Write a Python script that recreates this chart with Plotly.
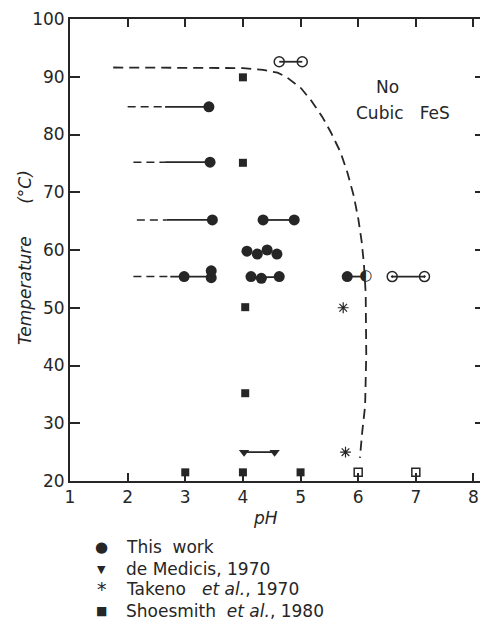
import plotly.graph_objects as go

# ---------------- data ----------------
# Phase boundary (dashed curve)
boundary_ph = [1.75, 3.0, 4.0, 4.35, 4.6, 4.75, 5.01, 5.19, 5.38, 5.53, 5.69, 5.81, 5.92,
               6.0, 6.06, 6.1, 6.13, 6.14, 6.12, 6.07, 6.03]
boundary_t = [91.6, 91.6, 91.5, 91.2, 90.7, 90.0, 88.0, 85.8, 83.0, 80.3, 77.0, 73.5, 69.5,
              65.5, 61.5, 57.5, 52.5, 42.0, 33.0, 28.5, 24.0]

# This work - filled circles
tw_ph = [3.41, 3.43, 3.47, 4.35, 4.89, 4.07, 4.25, 4.42, 4.59,
         2.98, 3.45, 3.45, 4.14, 4.32, 4.63, 5.81]
tw_t = [84.8, 75.2, 65.2, 65.2, 65.2, 59.8, 59.3, 60.0, 59.3,
        55.4, 55.2, 56.4, 55.4, 55.1, 55.4, 55.4]

# This work - dashed lead-in segments (start pH, end pH, temperature)
lead_start = [2.0, 2.1, 2.16, 2.1]
lead_end = [2.65, 2.65, 2.68, 2.74]
lead_t = [84.8, 75.2, 65.2, 55.4]

# Solid connecting segments (start pH, end pH, temperature)
seg_start = [2.65, 2.65, 2.68, 4.35, 2.74, 4.14, 5.81, 6.59, 4.63, 4.02]
seg_end = [3.41, 3.43, 3.47, 4.89, 3.45, 4.63, 6.13, 7.15, 5.03, 4.55]
seg_t = [84.8, 75.2, 65.2, 65.2, 55.4, 55.3, 55.4, 55.4, 92.6, 25.0]

# This work - open circles
open_ph = [4.63, 5.03]
open_t = [92.6, 92.6]
# This work - half-filled circle
half_ph = [6.13]
half_t = [55.4]
# This work - open circles with dot
opendot_ph = [6.59, 7.15]
opendot_t = [55.4, 55.4]

# de Medicis, 1970
dm_ph = [4.02, 4.55]
dm_t = [25.0, 25.0]

# Takeno et al., 1970
tk_ph = [5.74, 5.78]
tk_t = [50.0, 25.0]

# Shoesmith et al., 1980
sh_ph = [4.0, 4.0, 4.04, 4.04, 3.0, 4.0, 5.0]
sh_t = [89.9, 75.1, 50.1, 35.2, 21.5, 21.5, 21.5]
sh_open_ph = [6.0, 7.0]
sh_open_t = [21.5, 21.5]

x_ticks = [1, 2, 3, 4, 5, 6, 7, 8]
y_ticks = [20, 30, 40, 50, 60, 70, 80, 90, 100]

legend_names = ["This  work", "de Medicis, 1970",
                "Takeno&nbsp;&nbsp; <i>et al.</i>, 1970", "Shoesmith&nbsp; <i>et al.</i>, 1980"]
legend_glyphs = ["●", "▼", "*", "■"]
legend_glyph_sizes = [15, 11, 19, 12]

# ---------------- figure ----------------
INK = "#262626"
FONT = "DejaVu Sans"

fig = go.Figure()


def with_gaps(starts, ends, ys):
    xs, yy = [], []
    for a, b, y in zip(starts, ends, ys):
        xs += [a, b, None]
        yy += [y, y, None]
    return xs, yy


# boundary
fig.add_trace(go.Scatter(x=boundary_ph, y=boundary_t, mode="lines",
                         line=dict(color=INK, width=1.8, dash="10px,6px"),
                         showlegend=False, hoverinfo="skip"))

lx, ly = with_gaps(lead_start, lead_end, lead_t)
fig.add_trace(go.Scatter(x=lx, y=ly, mode="lines",
                         line=dict(color=INK, width=1.6, dash="8px,5px"),
                         showlegend=False, hoverinfo="skip"))

sx, sy = with_gaps(seg_start, seg_end, seg_t)
fig.add_trace(go.Scatter(x=sx, y=sy, mode="lines",
                         line=dict(color=INK, width=1.8),
                         showlegend=False, hoverinfo="skip"))

fig.add_trace(go.Scatter(x=tw_ph, y=tw_t, mode="markers",
                         marker=dict(symbol="circle", size=11, color=INK),
                         showlegend=False))
fig.add_trace(go.Scatter(x=open_ph, y=open_t, mode="markers",
                         marker=dict(symbol="circle-open", size=10, color=INK,
                                     line=dict(width=1.5)),
                         showlegend=False))
fig.add_trace(go.Scatter(x=opendot_ph, y=opendot_t, mode="markers",
                         marker=dict(symbol="circle-open-dot", size=10, color=INK,
                                     line=dict(width=1.5)),
                         showlegend=False))
# half-filled circle drawn as a glyph
fig.add_trace(go.Scatter(x=half_ph, y=half_t, mode="text", text=["◐"],
                         textposition="middle center",
                         textfont=dict(size=15, color=INK, family="DejaVu Sans"),
                         showlegend=False, hoverinfo="skip"))
fig.add_trace(go.Scatter(x=dm_ph, y=dm_t, mode="markers",
                         marker=dict(symbol="triangle-down", size=9, color=INK),
                         showlegend=False))
fig.add_trace(go.Scatter(x=tk_ph, y=tk_t, mode="markers",
                         marker=dict(symbol="asterisk-open", size=9, color=INK,
                                     line=dict(width=1.2, color=INK)),
                         showlegend=False))
fig.add_trace(go.Scatter(x=sh_ph, y=sh_t, mode="markers",
                         marker=dict(symbol="square", size=8, color=INK),
                         showlegend=False, cliponaxis=False))
fig.add_trace(go.Scatter(x=sh_open_ph, y=sh_open_t, mode="markers",
                         marker=dict(symbol="square-open", size=8, color=INK,
                                     line=dict(width=1.5)),
                         showlegend=False, cliponaxis=False))

axis_common = dict(showline=True, linewidth=2, linecolor=INK, mirror="ticks",
                   ticks="inside", tickcolor=INK, tickwidth=2,
                   showgrid=False, zeroline=False, automargin=False,
                   tickfont=dict(family=FONT, size=17, color=INK))

fig.update_xaxes(range=[1, 8.2], tickvals=x_ticks, ticklen=8, **axis_common)
fig.update_yaxes(range=[20, 100], tickvals=y_ticks, ticklen=10, **axis_common)

fig.add_annotation(x=6.51, y=88.2, xref="x", yref="y", text="No", showarrow=False,
                   xanchor="center", yanchor="middle",
                   font=dict(family=FONT, size=17, color=INK))
fig.add_annotation(x=6.78, y=83.7, xref="x", yref="y", text="Cubic&nbsp;&nbsp; FeS",
                   showarrow=False, xanchor="center", yanchor="middle",
                   font=dict(family=FONT, size=17, color=INK))

fig.add_annotation(x=0.47, y=-0.08, xref="paper", yref="paper", text="<i>pH</i>",
                   xanchor="center", yanchor="middle",
                   showarrow=False, font=dict(family=FONT, size=17, color=INK))
fig.add_annotation(x=-0.108, y=0.483, xref="paper", yref="paper",
                   text="<i>Temperature&nbsp;&nbsp;&nbsp;&nbsp;&nbsp; (°C)</i>", textangle=-90,
                   xanchor="center", yanchor="middle",
                   showarrow=False, font=dict(family=FONT, size=17, color=INK))

# legend, drawn as text rows below the plot
legend_rows_y = [-0.1429, -0.1905, -0.2338, -0.2814]
for name, glyph, gsz, yy in zip(legend_names, legend_glyphs, legend_glyph_sizes, legend_rows_y):
    fig.add_annotation(x=0.0771, y=yy, xref="paper", yref="paper", text=glyph,
                       showarrow=False, xanchor="center", yanchor="middle",
                       font=dict(family=FONT, size=gsz, color=INK))
    fig.add_annotation(x=0.131, y=yy, xref="paper", yref="paper", text=name,
                       showarrow=False, xanchor="left", yanchor="middle",
                       font=dict(family=FONT, size=17, color=INK))

# page body has an 8px default margin, so the figure is offset by 8px
fig.update_layout(
    width=480, height=613,
    margin=dict(l=62, r=3, t=11, b=140),
    paper_bgcolor="white", plot_bgcolor="white",
    font=dict(family=FONT, color=INK),
    showlegend=False,
)

fig.write_html("out.html")
